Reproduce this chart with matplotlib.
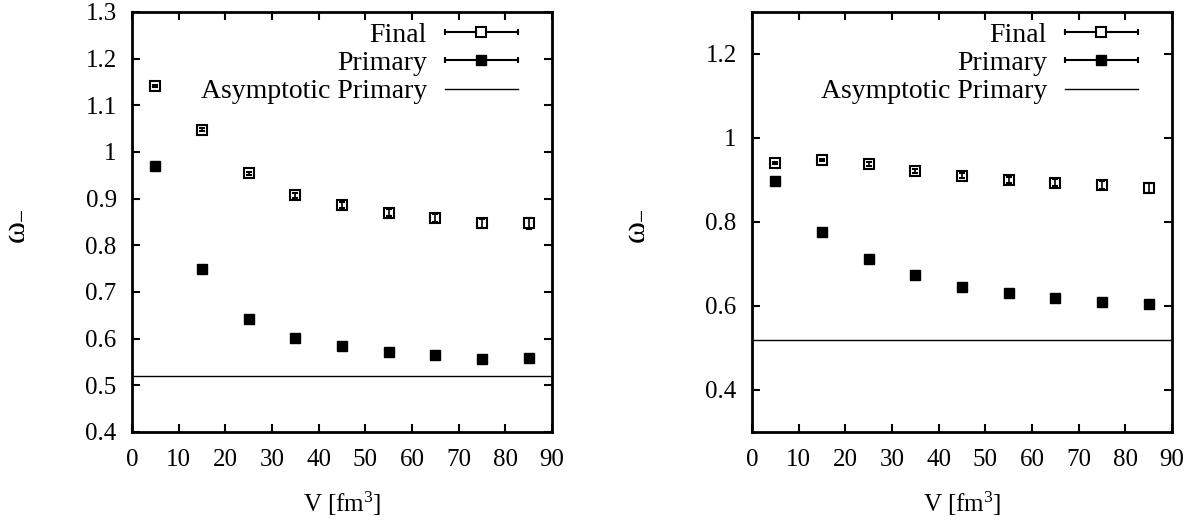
import matplotlib.pyplot as plt
from matplotlib.lines import Line2D
from matplotlib.legend_handler import HandlerLine2D, HandlerTuple
from matplotlib.ticker import FormatStrFormatter

plt.rcParams["font.family"] = ["Liberation Serif", "DejaVu Serif"]
plt.rcParams["mathtext.fontset"] = "custom"
plt.rcParams["mathtext.rm"] = "Liberation Serif"
plt.rcParams["mathtext.it"] = "Liberation Serif"

volume = [5, 15, 25, 35, 45, 55, 65, 75, 85]

# left panel
final_left = [1.141, 1.048, 0.954, 0.907, 0.886, 0.870, 0.859, 0.847, 0.847]
final_left_err = [0.002, 0.003, 0.004, 0.006, 0.007, 0.008, 0.009, 0.010, 0.012]
primary_left = [0.969, 0.749, 0.642, 0.601, 0.584, 0.571, 0.566, 0.556, 0.558]
primary_left_err = [0.001, 0.001, 0.001, 0.001, 0.002, 0.002, 0.002, 0.002, 0.002]
asymptotic_left = 0.52

# right panel
final_right = [0.941, 0.948, 0.938, 0.922, 0.910, 0.899, 0.894, 0.888, 0.881]
final_right_err = [0.002, 0.003, 0.004, 0.005, 0.006, 0.007, 0.008, 0.010, 0.012]
primary_right = [0.898, 0.777, 0.713, 0.675, 0.645, 0.632, 0.618, 0.609, 0.604]
primary_right_err = [0.001, 0.001, 0.001, 0.002, 0.002, 0.002, 0.002, 0.002, 0.002]
asymptotic_right = 0.52

x_ticks = [0, 10, 20, 30, 40, 50, 60, 70, 80, 90]
left_y_ticks = [0.4, 0.5, 0.6, 0.7, 0.8, 0.9, 1.0, 1.1, 1.2, 1.3]
right_y_ticks = [0.4, 0.6, 0.8, 1.0, 1.2]

FS = 18
LEG_FS = 20


def draw_panel(ax, final, final_err, primary, primary_err, asym, ylim, yticks):
    ax.errorbar(volume, final, yerr=final_err, fmt="s", ms=7.5, mfc="none",
                mec="black", mew=1.5, ecolor="black", elinewidth=1.2,
                capsize=2.5, capthick=1.2, color="black")
    ax.errorbar(volume, primary, yerr=primary_err, fmt="s", ms=7.5,
                mfc="black", mec="black", ecolor="black", elinewidth=1.0,
                capsize=2.0, color="black")
    ax.axhline(asym, color="black", lw=1.0)

    ax.set_xlim(0, 90)
    ax.set_ylim(*ylim)
    ax.set_xticks(x_ticks)
    ax.set_yticks(yticks)
    ax.yaxis.set_major_formatter(FormatStrFormatter("%g"))
    ax.tick_params(direction="in", length=6, width=1.5, top=True, right=True,
                   labelsize=FS)
    ax.tick_params(axis="x", pad=12)
    ax.tick_params(axis="y", pad=11)
    for s in ax.spines.values():
        s.set_linewidth(2.0)
    ax.set_xlabel("V [fm$^3$]", fontsize=FS, labelpad=14)
    ax.set_ylabel(r"$\omega_{-}$", fontsize=24)
    ax.yaxis.set_label_coords(-0.245, 0.49)

    # gnuplot style key: horizontal error bar sample with marker
    bar = Line2D([], [], color="black", lw=1.5, marker="|", ms=5, mew=1.5)
    open_sq = Line2D([], [], ls="none", marker="s", ms=7.5, mfc="white",
                     mec="black", mew=1.5)
    full_sq = Line2D([], [], ls="none", marker="s", ms=7.5, mfc="black",
                     mec="black")
    line = Line2D([], [], color="black", lw=1.0)
    hmap = {bar: HandlerLine2D(numpoints=2, marker_pad=0),
            open_sq: HandlerLine2D(numpoints=1),
            full_sq: HandlerLine2D(numpoints=1),
            tuple: HandlerTuple(ndivide=1, pad=0)}
    ax.legend([(bar, open_sq), (bar, full_sq), line],
              ["Final", "Primary", "Asymptotic Primary"],
              handler_map=hmap, loc="upper right", frameon=False,
              markerfirst=False, fontsize=LEG_FS, handlelength=2.63,
              handletextpad=0.65, labelspacing=0.1, borderpad=0,
              borderaxespad=0, bbox_to_anchor=(0.919, 0.975))


fig = plt.figure(figsize=(11.97, 5.25), dpi=100)
ax1 = fig.add_axes([132 / 1197, 93 / 525, 420 / 1197, 420 / 525])
ax2 = fig.add_axes([752 / 1197, 93 / 525, 420 / 1197, 420 / 525])

draw_panel(ax1, final_left, final_left_err, primary_left, primary_left_err,
           asymptotic_left, (0.4, 1.3), left_y_ticks)
draw_panel(ax2, final_right, final_right_err, primary_right, primary_right_err,
           asymptotic_right, (0.3, 1.3), right_y_ticks)

fig.savefig("out.png", dpi=100)
